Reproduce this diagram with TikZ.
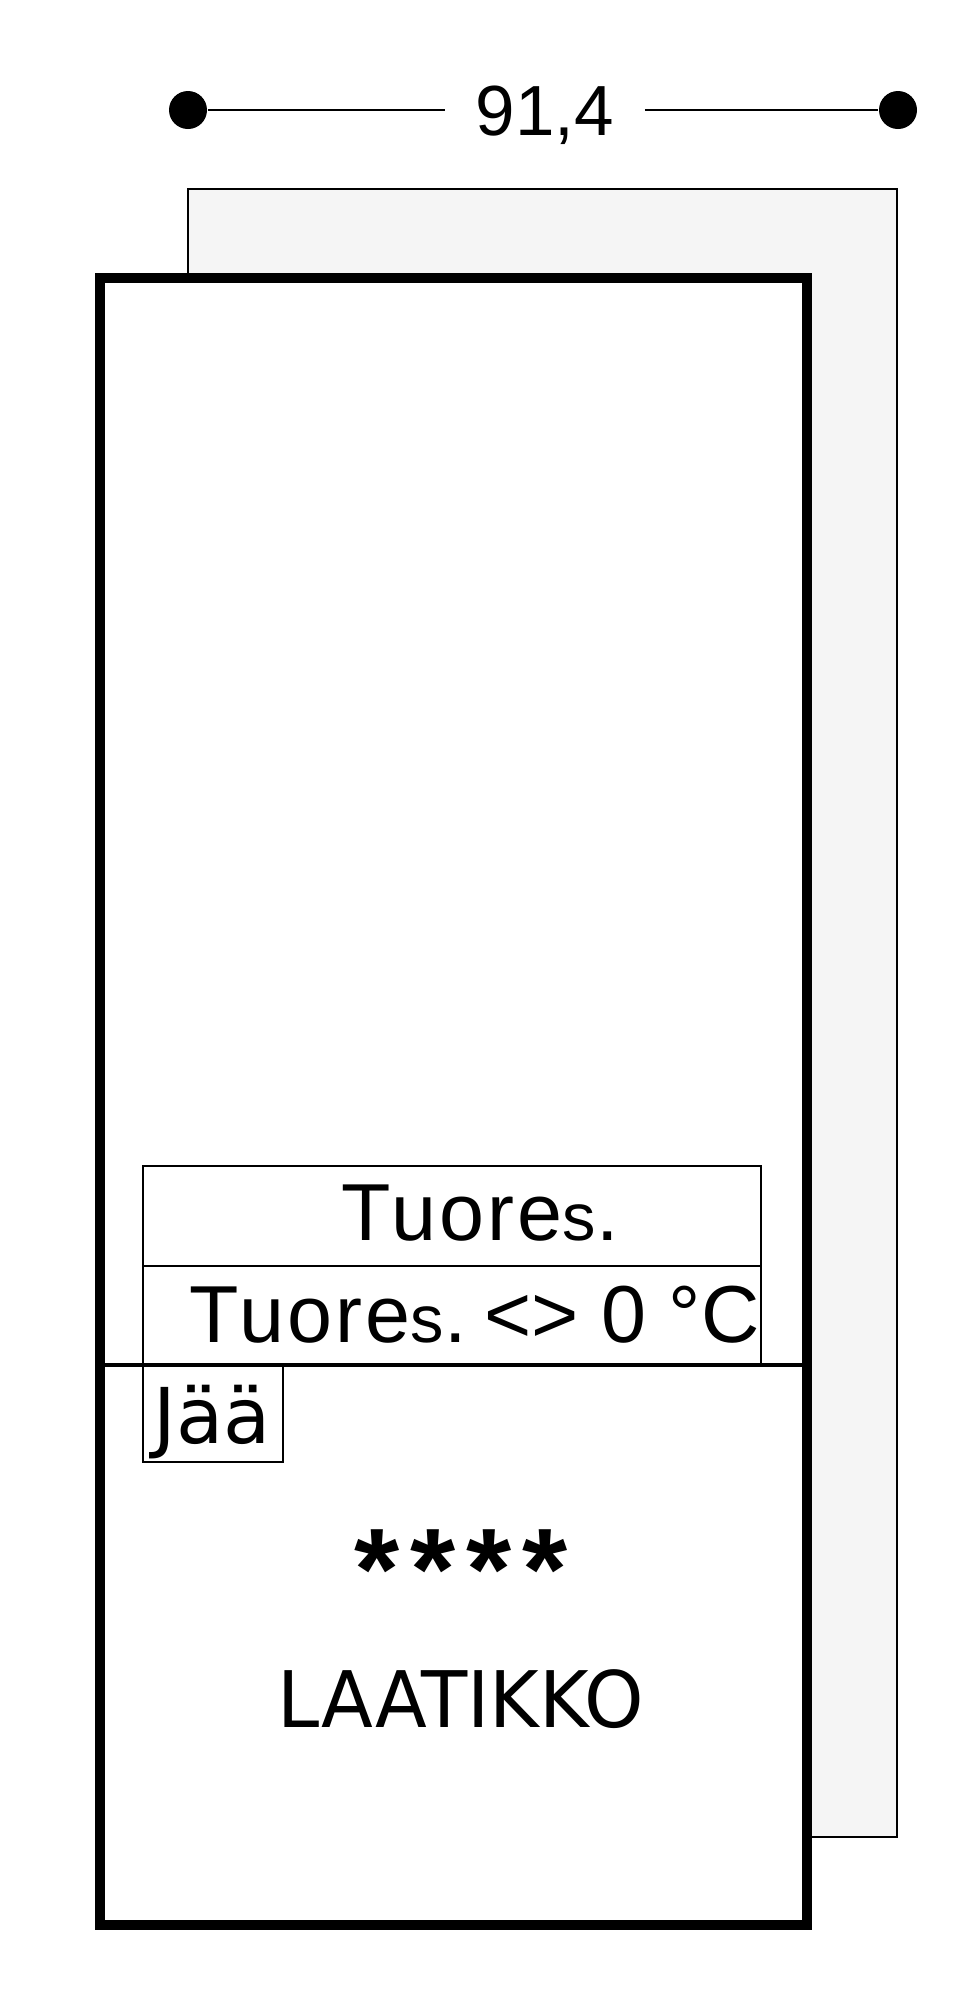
\documentclass[tikz,border=0pt]{standalone}
\usepackage{fontspec}
\setmainfont{Liberation Sans}
\newfontfamily\dejavu{DejaVu Sans}
\newfontfamily\spaced[LetterSpace=4]{Liberation Sans}
\newfontfamily\starfont[LetterSpace=9.5]{Liberation Sans Bold}
\usetikzlibrary{positioning}
\definecolor{backgray}{HTML}{F5F5F5}
\newcommand{\fresh}{{\spaced Tuore{\fontsize{19}{23}\selectfont s}.}}
\begin{document}
\begin{tikzpicture}[x=0.1mm,y=-0.1mm,
    dimdot/.style={circle,fill=black,inner sep=0pt,minimum size=3.8mm},
    dimlabel/.style={font=\fontsize{20.2}{24}\selectfont,anchor=base,inner xsep=3mm,inner ysep=0pt},
    zonetext/.style={font=\fontsize{23}{27}\selectfont,anchor=base,inner sep=0pt},
    thinline/.style={line width=0.2mm},
  ]
  \useasboundingbox (0,0) rectangle (975,2000);
  % width dimension
  \node[dimdot] (dl) at (188,110) {};
  \node[dimdot] (dr) at (898,110) {};
  \node[dimlabel] (dim) at (545,135) {91,4};
  \draw[thinline] (dl) -- (dl -| dim.west);
  \draw[thinline] (dim.east |- dr) -- (dr);
  % cabinet behind
  \draw[thinline,fill=backgray] (188,189) rectangle (897,1837);
  % door
  \draw[line width=1mm,fill=white] (100,278) rectangle (807,1925);
  \draw[line width=0.4mm] (100,1365) -- (807,1365);
  % zones
  \draw[thinline] (143,1365) -- (143,1166) -- (761,1166) -- (761,1365);
  \draw[thinline] (143,1266) -- (761,1266);
  \draw[thinline] (143,1365) -- (143,1462) -- (283,1462) -- (283,1365);
  \node[zonetext] (freshtop) at (480,1240) {\fresh};
  \node[zonetext,anchor=base west] (freshzero) at (189,1342) {\fresh{} \hspace{-3.4pt}<> 0 °C};
  \node[font=\dejavu\fontsize{21.9}{26}\selectfont,anchor=base west,inner sep=0pt] (ice) at (153,1443) {Jää};
  \node[font=\starfont\fontsize{33}{40}\selectfont,anchor=base,inner sep=0pt] (stars) at (461,1609) {****};
  \node[font=\dejavu\fontsize{22.2}{27}\selectfont,anchor=base,inner sep=0pt,xscale=0.97] (drawer) at (461,1727) {LAATIKKO};
\end{tikzpicture}
\end{document}
